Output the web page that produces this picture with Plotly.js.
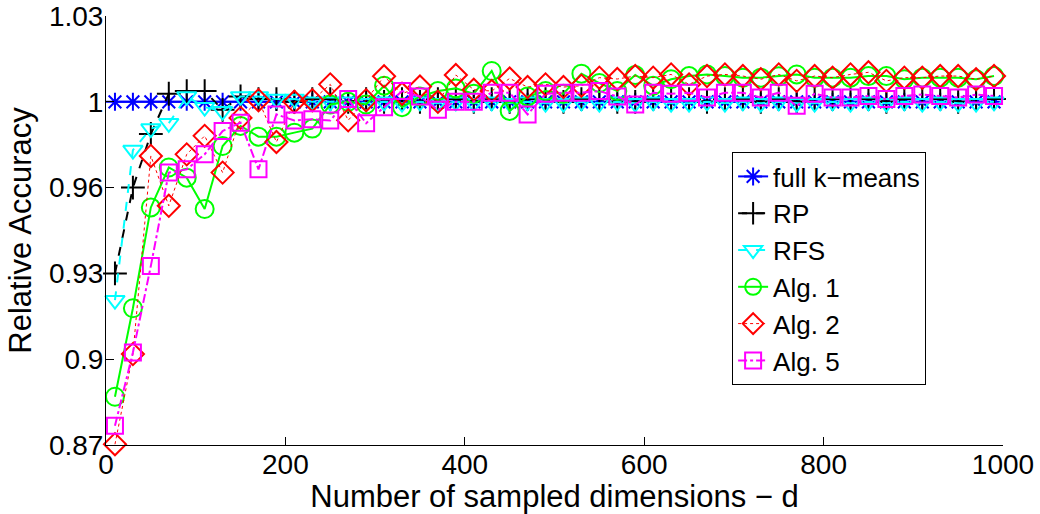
<!DOCTYPE html>
<html>
<head>
<meta charset="utf-8">
<script src="https://cdn.plot.ly/plotly-3.0.1.min.js"></script>
<style>html,body{margin:0;padding:0;background:#fff;}#chart{width:1040px;height:514px;}</style>
</head>
<body>
<div id="chart"></div>
<script>
// Number of sampled dimensions - d
const dims = [10,30,50,70,90,110,130,150,170,190,210,230,250,270,290,310,330,350,370,390,
  410,430,450,470,490,510,530,550,570,590,610,630,650,670,690,710,730,750,770,790,
  810,830,850,870,890,910,930,950,970,990];

const fullKmeans = [1,1,1,1,1,1,1,1,1,1,1,1,1,1,1,1,1,1,1,1,
  1,1,1,1,1,1,1,1,1,1,1,1,1,1,1,1,1,1,1,1,
  1,1,1,1,1,1,1,1,1,1];

const rp = [0.936,0.968,0.988,1.003,1.004,1.004,0.997,1.002,1.001,1.001,1.000,1.001,1.001,1.000,1.001,1.000,1.001,1.000,1.001,1.001,
  1.000,1.001,1.000,1.001,1.001,1.000,1.001,1.001,1.000,1.000,1.001,1.001,1.001,1.000,1.001,1.001,1.000,1.001,1.000,1.001,
  1.001,1.001,1.001,1.000,1.001,1.001,1.001,1.000,1.001,1.001];

const rfs = [0.926,0.982,0.990,0.992,1.002,0.998,0.9965,1.002,1.002,1.001,1.001,1.000,1.000,1.000,0.9995,1.000,0.9995,1.000,0.9995,1.000,
  0.9995,1.000,0.9995,1.000,0.9995,0.9995,1.000,0.9995,1.000,0.9995,1.000,0.9995,0.9995,1.000,0.9995,1.000,0.9995,1.000,0.9995,0.9995,
  1.000,0.9995,1.000,0.9995,1.000,0.9995,1.000,0.9995,0.9995,1.000];

const alg1 = [0.890,0.923,0.9606,0.9755,0.9717,0.960,0.9835,0.991,0.987,0.987,0.9885,0.990,0.999,1.000,0.999,1.006,0.998,1.002,1.004,1.005,
  1.003,1.0115,0.9966,1.002,1.004,1.003,1.0105,1.007,1.004,1.010,1.006,1.0084,1.0096,1.0102,1.0096,1.009,1.009,1.0095,1.0102,1.009,
  1.009,1.009,1.0096,1.0096,1.0084,1.009,1.009,1.009,1.0084,1.0096];

const alg2 = [0.8723,0.9059,0.9798,0.9612,0.9804,0.9873,0.9736,0.994,1.0006,0.985,1.000,1.0006,1.0065,0.9931,1.0006,1.0095,1.003,1.0057,1.000,1.010,
  1.0045,1.004,1.0087,1.0055,1.0065,1.0055,1.006,1.009,1.0085,1.0096,1.009,1.0102,1.0065,1.0096,1.0102,1.0096,1.0084,1.0102,1.0078,1.0096,
  1.009,1.0102,1.011,1.0078,1.009,1.009,1.0096,1.0096,1.0084,1.0096];

const alg5 = [0.8792,0.9065,0.9388,0.9736,0.9748,0.9804,0.9891,0.9922,0.9748,0.9953,0.993,0.9935,0.993,1.001,0.992,0.998,1.004,1.002,0.997,1.000,
  1.000,1.0034,1.0034,0.9953,1.003,1.0034,1.0034,1.004,1.002,0.999,1.0034,1.003,1.0034,1.0016,1.0034,1.0034,1.0016,1.0034,0.9985,1.003,
  1.0016,1.0016,1.0022,1.001,1.0022,1.0027,1.0022,1.0016,1.0027,1.0022];

const yTickVals = [0.872,0.904,0.936,0.968,1.0,1.032];
const yTickText = ['0.87','0.9','0.93','0.96','1','1.03'];
const xTickVals = [0,200,400,600,800,1000];

const FONT = '"Liberation Sans", Arial, Helvetica, sans-serif';

function tr(name, y, color, dash, lw, symbol, msize) {
  return {
    x: dims, y: y, name: name, type: 'scatter', mode: 'lines+markers',
    cliponaxis: false,
    line: {color: color, width: lw, dash: dash},
    marker: {symbol: symbol, size: msize, color: color, line: {color: color, width: 2}}
  };
}

const data = [
  tr('full k\u2212means', fullKmeans, '#0000ff', 'solid', 2, 'asterisk-open', 15),
  tr('RP', rp, '#000000', 'dash', 2, 'cross-thin-open', 17),
  tr('RFS', rfs, '#00ffff', 'dash', 2, 'triangle-down-open', 17),
  tr('Alg. 1', alg1, '#00ff00', 'solid', 2, 'circle-open', 18),
  tr('Alg. 2', alg2, '#ff0000', 'dot', 1, 'diamond-open', 17),
  tr('Alg. 5', alg5, '#ff00ff', 'dashdot', 2, 'square-open', 16)
];

const layout = {
  width: 1040, height: 514,
  margin: {l: 106, r: 37, t: 16, b: 69},
  paper_bgcolor: '#ffffff', plot_bgcolor: '#ffffff',
  font: {family: FONT, size: 28, color: '#000'},
  showlegend: true,
  legend: {
    x: 0.698, y: 0.683, xanchor: 'left', yanchor: 'top',
    bgcolor: '#ffffff', bordercolor: '#000', borderwidth: 1,
    font: {family: FONT, size: 26, color: '#000'}
  },
  xaxis: {
    range: [0, 1000], tickvals: xTickVals, ticks: 'inside', ticklen: 8, tickcolor: '#000',
    showline: true, linecolor: '#000', linewidth: 1, showgrid: false, zeroline: false,
    ticklabelstandoff: -6,
    tickfont: {family: FONT, size: 28, color: '#000'},
    title: {text: 'Number of sampled dimensions \u2212 d', font: {family: FONT, size: 31, color: '#000'}, standoff: 2}
  },
  yaxis: {
    range: [0.872, 1.032], tickvals: yTickVals, ticktext: yTickText, ticks: 'inside', ticklen: 8, tickcolor: '#000',
    showline: true, linecolor: '#000', linewidth: 1, showgrid: false, zeroline: false,
    ticklabelstandoff: -4,
    tickfont: {family: FONT, size: 28, color: '#000'},
    title: {text: 'Relative Accuracy', font: {family: FONT, size: 31, color: '#000'}, standoff: 8}
  }
};

Plotly.newPlot('chart', data, layout, {displayModeBar: false, staticPlot: true});
</script>
</body>
</html>
